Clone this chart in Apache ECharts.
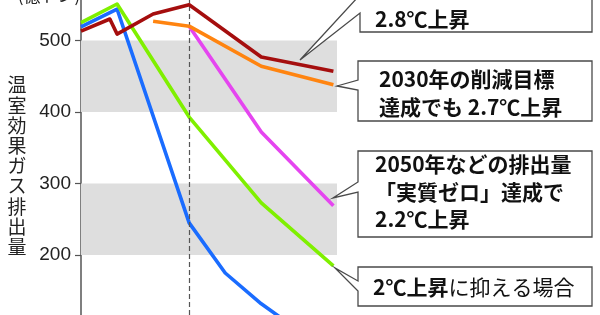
<!DOCTYPE html>
<html><head><meta charset="utf-8">
<script src="https://cdn.jsdelivr.net/npm/echarts@6/dist/echarts.min.js"></script>
<style>html,body{margin:0;padding:0;background:#fff}#c{width:600px;height:315px}</style>
</head><body><div id="c"></div>
<script>
// Data (years, 億トン)
const yTickLabels = [200, 300, 400, 500];
const yRange = [116.3, 556.6];   // visible part of the value axis
const yearsCurrent = [2015, 2019, 2020, 2025, 2030, 2040, 2050];
const valsCurrent = [513, 530, 509, 537, 550, 477, 457];          // 2.8℃上昇
const yearsTarget2030 = [2025, 2030, 2040, 2050];
const valsTarget2030 = [527, 520, 464, 438];                       // 2.7℃上昇
const yearsNetZero = [2030, 2040, 2050];
const valsNetZero = [520, 372, 269];                               // 2.2℃上昇
const yearsTwoDeg = [2015, 2020, 2030, 2040, 2050];
const valsTwoDeg = [525, 551, 393, 273, 185];                      // 2℃上昇
const years15 = [2015, 2020, 2030, 2035, 2040, 2050];
const vals15 = [519, 544, 245, 175, 132, 60];
const bands = [[400, 500], [200, 300]];
const markYear = 2030;

const pair = (xs, ys) => xs.map((x, i) => [x, ys[i]]);
const CJK = '"Noto Sans CJK JP", sans-serif';
const chart = echarts.init(document.getElementById('c'), null, {renderer: 'canvas'});

function lineSeries(name, data, color, z) {
  return {name, type: 'line', data, symbol: 'none', z, clip: true,
    lineStyle: {color, width: 3.6, join: 'round'}, animation: false, silent: true};
}

const series = [
  {type: 'line', data: [], z: 1, silent: true, animation: false,
   markArea: {silent: true, itemStyle: {color: '#dedede'},
     data: bands.map(b => [{xAxis: 2015, yAxis: b[0]}, {xAxis: 2050.5, yAxis: b[1]}])},
   markLine: {silent: true, symbol: 'none', label: {show: false},
     lineStyle: {color: '#555', width: 1.2, type: [5, 3]},
     data: [{xAxis: markYear}]}},
  lineSeries('15', pair(years15, vals15), '#1a6cff', 3),
  lineSeries('2deg', pair(yearsTwoDeg, valsTwoDeg), '#7ff000', 4),
  lineSeries('netzero', pair(yearsNetZero, valsNetZero), '#e545f0', 5),
  lineSeries('target', pair(yearsTarget2030, valsTarget2030), '#ff8410', 6),
  lineSeries('current', pair(yearsCurrent, valsCurrent), '#a50e0e', 7)
];

function box(points) {
  return {type: 'polygon', z: 20, shape: {points},
    style: {fill: '#fff', stroke: '#4a4a4a', lineWidth: 1.3}};
}
function txt(x, y, text, extra) {
  return Object.assign({type: 'text', x, y, z: 30,
    style: Object.assign({text, fill: '#111', font: 'bold 21px ' + CJK,
      verticalAlign: 'middle', align: 'left'}, extra || {})});
}

const graphic = [
  // unit label (cut off at top)
  {type: 'text', x: 49, y: -4, style: {text: '(億トン)', fill: '#222', font: '17px ' + CJK,
    align: 'center', verticalAlign: 'middle'}},
  // vertical axis title
  {type: 'text', x: 17, y: 75, style: {text: '温室効果ガス排出量'.split('').join('\n'),
    fill: '#222', font: '19px ' + CJK, lineHeight: 20.2, align: 'center', verticalAlign: 'top'}},
  // box 1
  box([[360, 32], [360, 13], [300, 60], [358, -3], [358, -20], [592, -20], [592, 32]]),
  txt(375, 19, '2.8℃上昇'),
  // box 2
  box([[358, 61], [592, 61], [592, 121], [358, 121], [358, 90], [337, 86], [358, 80]]),
  txt(379, 79, '2030年の削減目標'),
  txt(379, 107, '達成でも 2.7℃上昇'),
  // box 3
  box([[358, 151], [592, 151], [592, 237], [358, 237], [358, 192], [333, 198], [358, 182]]),
  txt(375, 164, '2050年などの排出量'),
  txt(375, 192, '「実質ゼロ」達成で'),
  txt(375, 219, '2.2℃上昇'),
  // box 4
  box([[358, 267], [592, 267], [592, 306], [358, 306], [358, 291], [335, 268], [358, 281]]),
  {type: 'text', x: 373, y: 287, z: 30, style: {
    text: '{b|2℃上昇}{n|に抑える場合}', verticalAlign: 'middle', align: 'left',
    rich: {b: {font: 'bold 21px ' + CJK, fill: '#111'}, n: {font: '21px ' + CJK, fill: '#111'}}}}
];

chart.setOption({
  animation: false,
  backgroundColor: '#fff',
  grid: {left: 81, top: 0, width: 256, height: 315, containLabel: false},
  xAxis: {type: 'value', min: 2015, max: 2050.5, show: false},
  yAxis: {type: 'value', min: yRange[0], max: yRange[1],
    axisLine: {show: true, lineStyle: {color: '#555', width: 1.5}},
    axisTick: {show: true, length: 6, customValues: yTickLabels, lineStyle: {color: '#555', width: 1.2}},
    axisLabel: {fontSize: 19, color: '#222', margin: 10, fontFamily: 'Liberation Sans',
      customValues: yTickLabels},
    splitLine: {show: false}},
  series,
  graphic
});
</script></body></html>
